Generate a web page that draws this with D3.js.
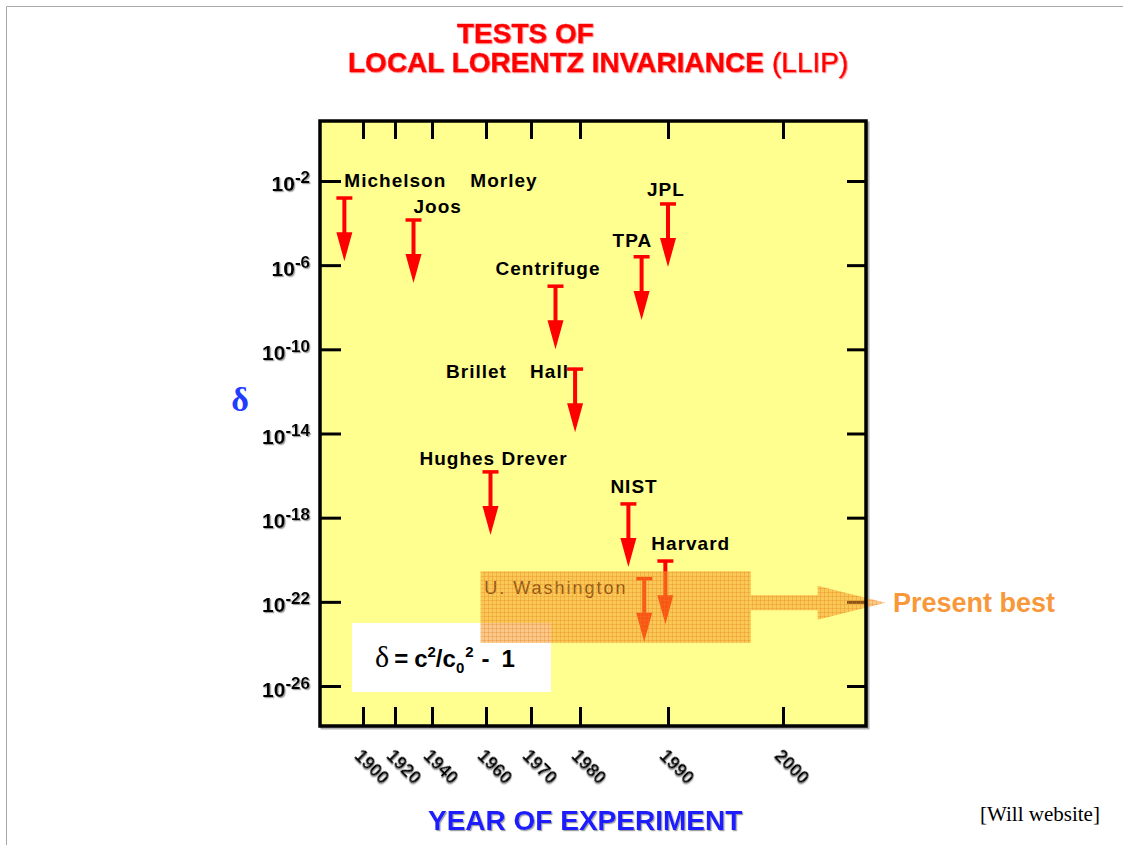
<!DOCTYPE html>
<html><head><meta charset="utf-8">
<script src="https://cdn.jsdelivr.net/npm/d3@7"></script>
<style>
html,body{margin:0;padding:0;background:#fff;}
svg{display:block;}
</style></head><body>
<svg id="chart" width="1123" height="845" font-family="Liberation Sans, Arial, Helvetica, sans-serif"></svg>
<script>
// ---------------- data ----------------
const titleLines = ["TESTS OF", "LOCAL LORENTZ INVARIANCE", "(LLIP)"];
const xTitle = "YEAR OF EXPERIMENT";
const yTitle = "δ";
const sourceNote = "[Will website]";
const xTickYears = [1900, 1920, 1940, 1960, 1970, 1980, 1990, 2000];
const yTickValues = [1e-2, 1e-6, 1e-10, 1e-14, 1e-18, 1e-22, 1e-26];
const experiments = ["Michelson", "Joos", "Hughes Drever", "Centrifuge", "Hall", "NIST", "TPA", "U. Washington", "Harvard", "JPL"];
const years       = [1887, 1930, 1961, 1975, 1979, 1985.5, 1987, 1987.3, 1989.7, 1990];
const upperLimits = [1.55e-3, 1.4e-4, 1.5e-16, 1.0e-7, 1.15e-11, 4.5e-18, 2.5e-6, 1.26e-21, 8.7e-21, 8.1e-4];
const arrowDecades = 3;                 // each limit arrow spans three decades
const coLabels = {"Michelson": "Morley", "Hall": "Brillet"};
const bandYears = [1958, 1997.2];
const bandLimits = [Math.pow(10, -20.55), Math.pow(10, -23.95)];
const presentBest = 1e-22;
const presentBestYears = [1997.2, 2003, 2008.9]; // shaft start, head start, tip
const presentBestLabel = "Present best";

// ---------------- layout / scales ----------------
const svg = d3.select("#chart");
const L = 320, R = 866, T = 121, B = 726;
const x = d3.scaleLinear()
  .domain([1870, 1900, 1920, 1940, 1960, 1970, 1980, 1990, 2000, 2007.2])
  .range([L, 363, 395, 432, 486, 531, 580, 668, 783, R]);
const y = d3.scaleLog().domain([Math.pow(10, 0.85), Math.pow(10, -27.9)]).range([T, B]);
const SERIF = "Liberation Serif, Times New Roman, serif";

const defs = svg.append("defs");
const sh = defs.append("filter").attr("id", "shadow").attr("x", "-10%").attr("y", "-10%").attr("width", "130%").attr("height", "130%");
sh.append("feDropShadow").attr("dx", 1.2).attr("dy", 1.2).attr("stdDeviation", 0.4).attr("flood-color", "#888").attr("flood-opacity", 0.8);
const shr = defs.append("filter").attr("id", "redglow").attr("x", "-5%").attr("y", "-20%").attr("width", "110%").attr("height", "140%");
shr.append("feDropShadow").attr("dx", 0.8).attr("dy", 0.8).attr("stdDeviation", 0.5).attr("flood-color", "#ff8080").attr("flood-opacity", 0.9);
const pat = defs.append("pattern").attr("id", "grid").attr("width", 4).attr("height", 4).attr("patternUnits", "userSpaceOnUse");
pat.append("rect").attr("width", 4).attr("height", 4).attr("fill", "#f59a2a").attr("fill-opacity", 0.55);
pat.append("path").attr("d", "M0 0.5H4M0.5 0V4").attr("stroke", "#e87f18").attr("stroke-opacity", 0.3).attr("stroke-width", 1);

// page border lines
svg.append("path").attr("d", "M6.5,845V6.5H1123").attr("fill", "none").attr("stroke", "#a8a8a8").attr("stroke-width", 1);

// title
const tg = svg.append("g").attr("fill", "#ff0000").attr("filter", "url(#redglow)");
tg.append("text").attr("x", 457).attr("y", 43).attr("font-size", 28).attr("font-weight", "bold")
  .attr("stroke", "#ff0000").attr("stroke-width", 0.5).text(titleLines[0]);
tg.append("text").attr("x", 348).attr("y", 72).attr("font-size", 28).attr("font-weight", "bold")
  .attr("stroke", "#ff0000").attr("stroke-width", 0.5).text(titleLines[1]);
tg.append("text").attr("x", 772).attr("y", 72).attr("font-size", 28).attr("font-weight", "normal")
  .attr("stroke", "#ff0000").attr("stroke-width", 0.5).text(titleLines[2]);

// frame shadow + background
svg.append("rect").attr("x", L + 2).attr("y", T + 2).attr("width", R - L).attr("height", B - T)
  .attr("fill", "none").attr("stroke", "#b0b0b0").attr("stroke-width", 3);
svg.append("rect").attr("x", L).attr("y", T).attr("width", R - L).attr("height", B - T).attr("fill", "#ffff8f");

// formula box
svg.append("rect").attr("x", 352).attr("y", 623).attr("width", 199).attr("height", 69).attr("fill", "#ffffff");
const ft = svg.append("text").attr("x", 375).attr("y", 667).attr("font-size", 24).attr("font-weight", "bold").attr("fill", "#000");
ft.append("tspan").attr("font-family", SERIF).attr("font-weight", "normal").attr("font-size", 30).text("δ");
ft.append("tspan").attr("dx", 5).text("=");
ft.append("tspan").attr("dx", 6).text("c");
ft.append("tspan").attr("font-size", 15).attr("dy", -10).text("2");
ft.append("tspan").attr("dy", 10).text("/c");
ft.append("tspan").attr("font-size", 15).attr("dy", 6).text("0");
ft.append("tspan").attr("font-size", 15).attr("dy", -16).attr("dx", 1).text("2");
ft.append("tspan").attr("dy", 10).attr("dx", 8).text("-");
ft.append("tspan").attr("dx", 12).text("1");

// axes (ticks inward)
function styleAxis(g) {
  g.select(".domain").remove();
  g.selectAll(".tick line").attr("stroke", "#000").attr("stroke-width", 3);
}
const gl = svg.append("g").attr("transform", `translate(${L},0)`)
  .call(d3.axisLeft(y).tickValues(yTickValues).tickSize(-21).tickPadding(10).tickFormat(""));
styleAxis(gl);
gl.selectAll(".tick text").each(function (d) {
  const t = d3.select(this).attr("dy", null).attr("y", 10).attr("fill", "#000")
    .attr("font-weight", "bold").attr("font-size", 21).attr("filter", "url(#shadow)").attr("text-anchor", "end");
  t.text(null);
  t.append("tspan").text("10");
  t.append("tspan").attr("font-size", 17).attr("dy", -8).text(String(Math.round(Math.log10(d))));
});
const gr = svg.append("g").attr("transform", `translate(${R},0)`)
  .call(d3.axisRight(y).tickValues(yTickValues).tickSize(-19).tickFormat(""));
styleAxis(gr);
const gt = svg.append("g").attr("transform", `translate(0,${T})`)
  .call(d3.axisTop(x).tickValues(xTickYears).tickSize(-18).tickFormat(""));
styleAxis(gt);
const gb = svg.append("g").attr("transform", `translate(0,${B})`)
  .call(d3.axisBottom(x).tickValues(xTickYears).tickSize(-19).tickFormat(d3.format("d")));
styleAxis(gb);
gb.selectAll(".tick text").attr("y", 0).attr("dy", 0).attr("text-anchor", "start")
  .attr("transform", "translate(-10,31) rotate(45)").attr("fill", "#000")
  .attr("font-size", 18).attr("font-weight", "bold").attr("filter", "url(#shadow)");

// experiment labels
const labelOffset = {
  "Michelson": [0, -11], "Joos": [0, -7], "Hughes Drever": [-71, -7], "Centrifuge": [-60, -11],
  "Hall": [-45, 9], "NIST": [-18, -11], "TPA": [-29, -10], "U. Washington": [-160, 15],
  "Harvard": [-14, -11], "JPL": [-21, -8]
};
const coOffset = {"Michelson": 126, "Hall": -84};
const data = experiments.map((n, i) => ({name: n, year: years[i], lim: upperLimits[i]}));
const lg = svg.append("g").attr("font-size", 19).attr("font-weight", "bold");
data.forEach(d => {
  const o = labelOffset[d.name];
  const isUW = d.name === "U. Washington";
  lg.append("text").attr("x", x(d.year) + o[0]).attr("y", y(d.lim) + o[1])
    .attr("fill", "#000")
    .attr("font-size", isUW ? 18 : 19)
    .attr("font-weight", isUW ? "normal" : "bold")
    .attr("letter-spacing", isUW ? 2 : 1)
    .text(d.name);
  if (coLabels[d.name]) {
    lg.append("text").attr("x", x(d.year) + o[0] + coOffset[d.name]).attr("y", y(d.lim) + o[1])
      .attr("fill", "#000").attr("letter-spacing", 1).text(coLabels[d.name]);
  }
});

// limit arrows
const ag = svg.append("g").attr("fill", "#ff0000").attr("stroke", "#ff0000");
data.forEach(d => {
  const cx = x(d.year), y0 = y(d.lim), y1 = y(d.lim / Math.pow(10, arrowDecades));
  const headLen = 29, headW = 8;
  ag.append("line").attr("x1", cx - 8).attr("x2", cx + 8).attr("y1", y0).attr("y2", y0).attr("stroke-width", 3.5);
  ag.append("line").attr("x1", cx).attr("x2", cx).attr("y1", y0).attr("y2", y1 - headLen + 1).attr("stroke-width", 4);
  ag.append("path").attr("stroke", "none")
    .attr("d", `M${cx - headW},${y1 - headLen}L${cx + headW},${y1 - headLen}L${cx},${y1}Z`);
});

// present-best band
svg.append("rect").attr("x", x(bandYears[0])).attr("y", y(bandLimits[0]))
  .attr("width", x(bandYears[1]) - x(bandYears[0])).attr("height", y(bandLimits[1]) - y(bandLimits[0]))
  .attr("fill", "url(#grid)");
const pyc = y(presentBest) + 1;
const xs0 = x(presentBestYears[0]), xh = x(presentBestYears[1]), xt = x(presentBestYears[2]);
svg.append("path").attr("fill", "url(#grid)")
  .attr("d", `M${xs0},${pyc - 7.5}L${xh},${pyc - 7.5}L${xh},${pyc - 17}L${xt},${pyc}L${xh},${pyc + 17}L${xh},${pyc + 7.5}L${xs0},${pyc + 7.5}Z`);

// frame
svg.append("rect").attr("x", L).attr("y", T).attr("width", R - L).attr("height", B - T)
  .attr("fill", "none").attr("stroke", "#000").attr("stroke-width", 3.5);

// present best label
svg.append("text").attr("x", 893).attr("y", 612).attr("font-size", 27).attr("font-weight", "bold")
  .attr("fill", "#f7983a").text(presentBestLabel);

// axis titles
svg.append("text").attr("x", 240).attr("y", 411).attr("text-anchor", "middle")
  .attr("font-family", SERIF).attr("font-weight", "bold").attr("font-size", 34)
  .attr("fill", "#1f3cff").text(yTitle);
svg.append("text").attr("x", 428).attr("y", 830).attr("font-size", 28).attr("font-weight", "bold")
  .attr("fill", "#1a1aff").attr("filter", "url(#shadow)").text(xTitle);
svg.append("text").attr("x", 980).attr("y", 821).attr("font-size", 21)
  .attr("font-family", SERIF).attr("fill", "#000").text(sourceNote);
</script>
</body></html>
